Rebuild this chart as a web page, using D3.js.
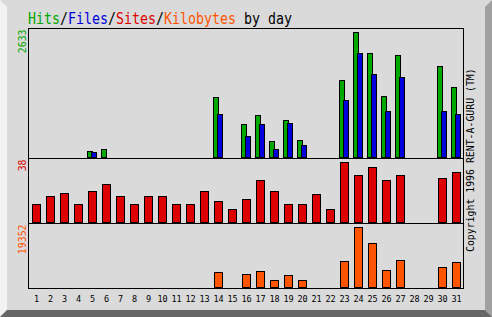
<!DOCTYPE html>
<html><head><meta charset="utf-8">
<script src="https://cdn.jsdelivr.net/npm/d3@7"></script>
<style>html,body{margin:0;padding:0;background:#dadada;}svg{display:block;}</style>
</head><body>
<script>
const days = ["1","2","3","4","5","6","7","8","9","10","11","12","13","14","15","16","17","18","19","20","21","22","23","24","25","26","27","28","29","30","31"];
const hits   = [0,0,0,0,140,182,0,0,0,0,0,0,0,1268,0,704,893,349,788,370,0,0,1624,2633,2188,1290,2146,0,0,1916,1478];
const files  = [0,0,0,0,119,0,0,0,0,0,0,0,0,913,0,453,704,182,725,265,0,0,1206,2188,1749,976,1687,0,0,976,913];
const sites  = [12,17,19,12,20,24,17,12,17,17,12,12,20,14,9,15,27,20,12,12,18,9,38,30,35,27,30,0,0,28,32];
const kbytes = [0,0,0,0,0,0,0,0,0,0,0,0,0,4980,0,4346,5297,2442,4028,2442,0,0,8469,19352,14179,5614,8786,0,0,6566,8152];
const maxLabels = ["2633","38","19352"];
const titleParts = [["Hits","#00a800"],["/","#000"],["Files","#0000dd"],["/","#000"],["Sites","#dd0000"],["/","#000"],["Kilobytes","#ff5500"],[" by day","#000"]];
const copyright = "Copyright 1996 RENT-A-GURU (TM)";

const W = 492, H = 317;
const C = {bg:"#dadada", light:"#f2f2f2", right:"#a0a0a0", dark:"#666666",
           hits:"#00a800", files:"#0000dd", sites:"#dd0000", kb:"#ff5500"};
const mono = "'DejaVu Sans Mono', 'Liberation Mono', monospace";

const svg = d3.select("body").append("svg").attr("width", W).attr("height", H);
svg.append("rect").attr("width", W).attr("height", H).attr("fill", C.bg);
// bevels
svg.append("polygon").attr("points", "0,0 7,7 7,310 0,317").attr("fill", C.light);
svg.append("polygon").attr("points", "485,7 492,0 492,317 485,310").attr("fill", C.right);
svg.append("polygon").attr("points", "0,317 7,310 485,310 492,317").attr("fill", C.dark);

const L = 28, R = 463;
const panels = [{top:28, base:158}, {top:158, base:223}, {top:223, base:288}];

const x = d3.scaleBand().domain(days).range([29, 463]).padding(0);
const cx = d => Math.round(x(d) + x.bandwidth()/2);

const yHits = d3.scaleLinear().domain([0, 2633]).range([158, 32]);
const ySites = d3.scaleLinear().domain([0, 38]).range([223, 162]);
const yKb = d3.scaleLinear().domain([0, 19352]).range([288, 227]);

function bars(vals, y, base, dx, w, color) {
  const data = days.map((d, i) => ({d, v: vals[i]})).filter(o => o.v > 0);
  svg.append("g").selectAll("rect").data(data).join("rect")
    .attr("x", o => cx(o.d) + dx)
    .attr("y", o => Math.round(y(o.v)) + 0.5)
    .attr("width", w)
    .attr("height", o => base - 0.5 - (Math.round(y(o.v)) + 0.5))
    .attr("fill", color).attr("stroke", "#000").attr("stroke-width", 1);
}
bars(hits, yHits, 158, -4.5, 5, C.hits);
bars(files, yHits, 158, -0.5, 5, C.files);
bars(sites, ySites, 223, -3.5, 8, C.sites);
bars(kbytes, yKb, 288, -3.5, 8, C.kb);

// frame lines
const fr = svg.append("g").attr("stroke", "#000").attr("stroke-width", 1).attr("fill", "none");
fr.append("line").attr("x1", L).attr("x2", R + 1).attr("y1", 28.5).attr("y2", 28.5);
panels.forEach(p => fr.append("line").attr("x1", L).attr("x2", R + 1).attr("y1", p.base + 0.5).attr("y2", p.base + 0.5));
fr.append("line").attr("x1", L + 0.5).attr("x2", L + 0.5).attr("y1", 28).attr("y2", 289);
fr.append("line").attr("x1", R + 0.5).attr("x2", R + 0.5).attr("y1", 28).attr("y2", 289);

// x axis labels
const xAxis = d3.axisBottom(x).tickSize(0).tickPadding(0);
const gx = svg.append("g").attr("transform", "translate(0,295)").call(xAxis);
gx.select(".domain").remove();
gx.selectAll("text").attr("font-family", mono).attr("font-size", "8.5px").attr("fill", "#000")
  .attr("dy", null).attr("y", 6.5).attr("x", 0.5);

// title
const t = svg.append("text").attr("transform", "translate(28,23.5) scale(1,1.18)")
  .attr("font-family", mono).attr("font-size", "13.3px");
titleParts.forEach(([s, c]) => t.append("tspan").attr("fill", c).attr("xml:space", "preserve").text(s));
t.style("white-space", "pre");

// max labels
const maxColors = [C.hits, C.sites, C.kb];
panels.forEach((p, i) => {
  svg.append("text").attr("transform", `translate(25.5,${p.top + 1.5}) rotate(-90)`)
    .attr("text-anchor", "end").attr("font-family", mono).attr("font-size", "9.85px")
    .attr("fill", maxColors[i]).text(maxLabels[i]);
});

// copyright
svg.append("text").attr("transform", "translate(473.5,252) rotate(-90)")
  .attr("font-family", mono).attr("font-size", "9.85px").attr("fill", "#000")
  .style("white-space", "pre").text(copyright);
</script>
</body></html>
